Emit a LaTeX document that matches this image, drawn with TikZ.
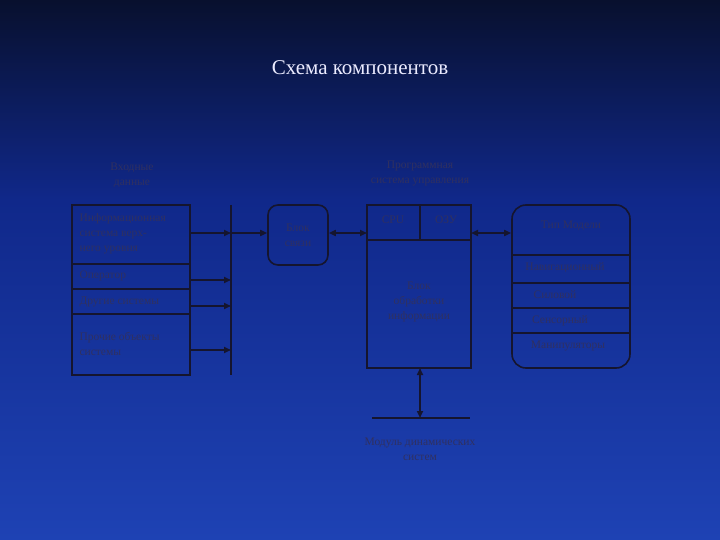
\documentclass[tikz,border=0pt]{standalone}
\usepackage{fontspec}
\setmainfont{Liberation Serif}
\usetikzlibrary{arrows.meta}
\definecolor{bgtop}{HTML}{08102E}
\definecolor{bgmid}{HTML}{10288A}
\definecolor{bgbot}{HTML}{1E42B4}
\definecolor{ln}{HTML}{15152E}
\definecolor{tx}{HTML}{303060}
\tikzset{
 ln/.style={draw=ln,line width=1.6pt},
 ar/.style={ln,-{Triangle[length=7pt,width=6pt]}},
 dar/.style={ln,{Triangle[length=7pt,width=6pt]}-{Triangle[length=7pt,width=6pt]}},
 lbl/.style={text=tx,font=\fontsize{11.5}{15}\selectfont,align=center},
 lbll/.style={text=tx,font=\fontsize{11.5}{15}\selectfont,align=left,anchor=west}
}
\begin{document}
\begin{tikzpicture}[x=1pt,y=-1pt]
\shade[top color=bgtop,bottom color=bgmid] (0,0) rectangle (720,200);
\shade[top color=bgmid,bottom color=bgbot] (0,200) rectangle (720,540);
\useasboundingbox (0,0) rectangle (720,540);
\node[text=white!92!blue,font=\fontsize{21}{24}\selectfont] (title) at (360,68) {Схема компонентов};
% left
\node[lbl] (lt) at (132,175) {Входные\\данные};
\draw[ln] (72,205) rectangle (190,375);
\draw[ln] (72,264)--(190,264) (72,289)--(190,289) (72,314)--(190,314);
\node[lbll] (l1) at (76,234) {Информационная\\система верх-\\него уровня};
\node[lbll] (l2) at (76,276) {Оператор};
\node[lbll] (l3) at (76,302) {Другие системы};
\node[lbll] (l4) at (76,344) {Прочие объекты\\системы};
\coordinate (bt) at (231,205); \coordinate (bb) at (231,375);
\draw[ln] (bt)--(bb);
\foreach \y in {233,280,306,350}{\draw[ar] (190,\y)--(231,\y);}
% block
\node[ln,rounded corners=10pt,minimum width=60pt,minimum height=60pt,lbl] (bl) at (298,235) {Блок\\связи};
\draw[ar] (231,233)--(bl.west|-0,233);
% center
\node[lbl] (ct) at (420,173) {Программная\\система управления};
\draw[ln] (367,205) rectangle (471,368);
\draw[ln] (367,240)--(471,240) (420,205)--(420,240);
\node[lbl] (c1) at (393,220) {CPU};
\node[lbl] (c2) at (446,220) {ОЗУ};
\node[lbl] (c3) at (419,302) {Блок\\обработки\\информации};
\draw[dar] (bl.east|-0,233)--(367,233);
% right
\node[ln,rounded corners=14pt,minimum width=118pt,minimum height=163pt] (rb) at (571,286.5) {};
\draw[ln] (512,255)--(630,255) (512,283)--(630,283) (512,308)--(630,308) (512,333)--(630,333);
\node[lbl] (r0) at (571,226) {Тип Модели};
\node[lbl] (r1) at (565,268) {Навигационный};
\node[lbl] (r2) at (555,295) {Силовой};
\node[lbl] (r3) at (560,321) {Сенсорный};
\node[lbl] (r4) at (568,346) {Манипуляторы};
\draw[dar] (471,233)--(rb.west|-0,233);
% bottom
\coordinate (bar) at (420,418);
\draw[dar] (420,368)--(bar);
\draw[ln] (372,418)--(470,418);
\node[lbl] (bt2) at (420,449) {Модуль динамических\\систем};
\end{tikzpicture}
\end{document}
